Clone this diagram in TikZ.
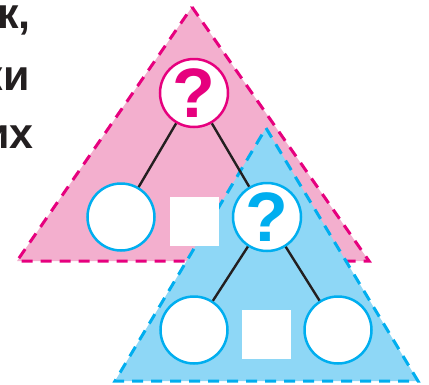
\documentclass[tikz,border=0pt]{standalone}
\usepackage{fontspec}
\setmainfont{Liberation Sans}
\definecolor{pinkfill}{RGB}{243,175,206}
\definecolor{magline}{RGB}{230,0,126}
\definecolor{bluefill}{RGB}{142,215,246}
\definecolor{cyanline}{RGB}{0,174,239}
\definecolor{txt}{RGB}{35,31,32}
\begin{document}
\begin{tikzpicture}[x=1pt,y=-1pt,
  qcirc/.style={circle, draw, fill=white, line width=2.5pt, minimum size=68pt, inner sep=0pt,
                font=\fontsize{70}{70}\selectfont\bfseries},
  ecirc/.style={circle, draw=cyanline, fill=white, line width=2.5pt, minimum size=67pt, inner sep=0pt},
  sq/.style={fill=white, minimum size=49pt, inner sep=0pt},
  edge/.style={line width=2.4pt, txt},
  tri/.style={line width=3pt, dash pattern=on 11pt off 8pt},
  word/.style={anchor=base east, text=txt, font=\fontsize{43}{43}\selectfont\bfseries, inner sep=0pt}]
\useasboundingbox (0,0) rectangle (429,384);
% triangles
\coordinate (pa) at (192,7);
\coordinate (pr) at (369,261);
\coordinate (pl0) at (17,261);
\coordinate (ba) at (266,128);
\coordinate (br0) at (418,381);
\coordinate (bl0) at (115,381);
\fill[pinkfill] (pa) -- (pr) -- (pl0) -- cycle;
\draw[tri, magline] (pa) -- (pr) -- (pl0) -- cycle;
\fill[bluefill] (ba) -- (br0) -- (bl0) -- cycle;
\draw[tri, cyanline] (ba) -- (br0) -- (bl0) -- cycle;
% nodes
\node[qcirc, draw=magline, text=magline] (pq) at (194,93) {?};
\node[ecirc] (pl) at (121,217) {};
\node[sq] (psq) at (194.5,221.5) {};
\node[qcirc, draw=cyanline, text=cyanline] (bq) at (267,217) {?};
\node[ecirc] (bl) at (194,330) {};
\node[ecirc] (br) at (338,330) {};
\node[sq] (bsq) at (266.5,334) {};
% edges
\draw[edge] (pq) -- (pl);
\draw[edge] (pq) -- (bq);
\draw[edge] (bq) -- (bl);
\draw[edge] (bq) -- (br);
% text
\node[word] (w1) at (31,28) {к,};
\node[word] (w2) at (30,90) {ки};
\node[word] (w3) at (34,148) {их};
\end{tikzpicture}
\end{document}
